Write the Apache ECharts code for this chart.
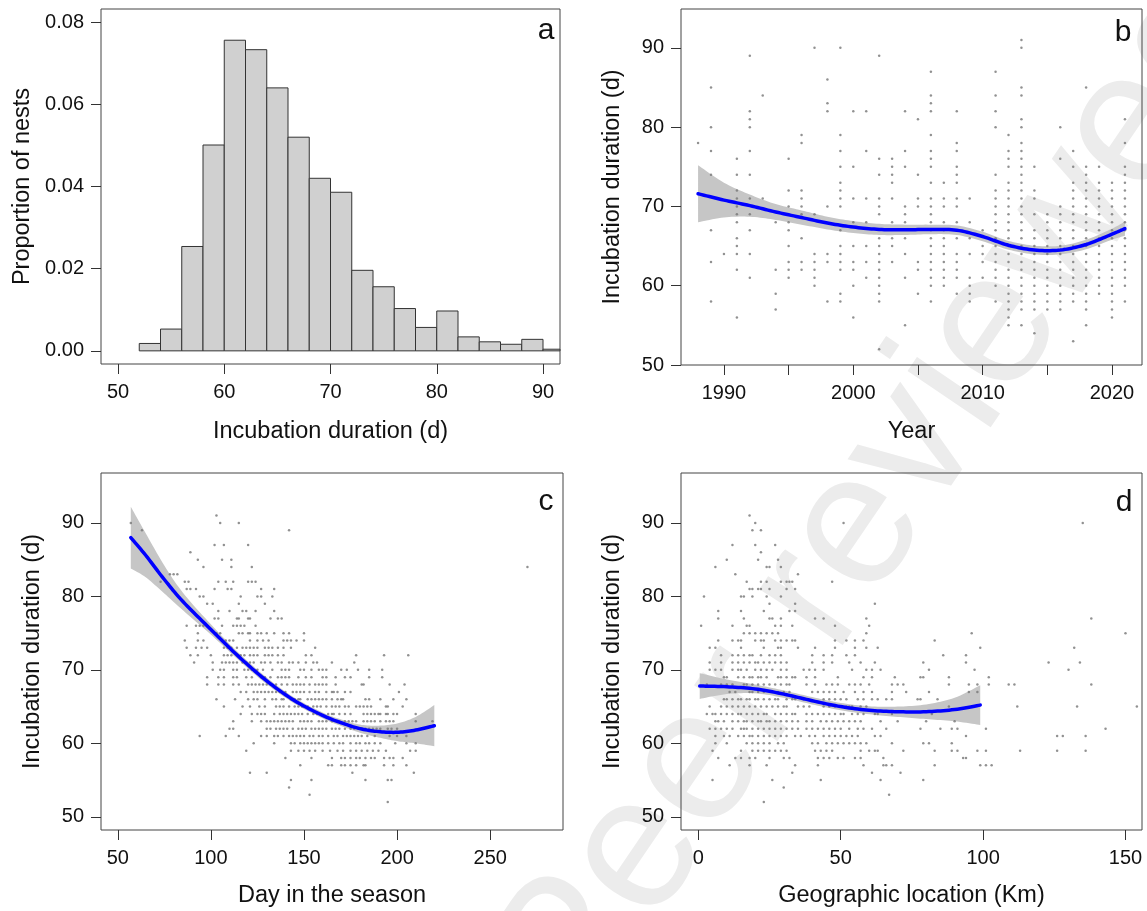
<!DOCTYPE html>
<html><head><meta charset="utf-8">
<script src="https://cdn.jsdelivr.net/npm/echarts@6/dist/echarts.min.js"></script>
<style>html,body{margin:0;padding:0;background:#fff}#c{width:1147px;height:911px}</style>
</head><body><div id="c"></div><script>
// ---------- Panel a: histogram ----------
const histBreaks = [52,54,56,58,60,62,64,66,68,70,72,74,76,78,80,82,84,86,88,90,92];
const histDensity = [0.0018,0.0053,0.0254,0.0501,0.0756,0.0733,0.0640,0.0520,0.0420,0.0386,0.0196,0.0156,0.0103,0.0057,0.0097,0.0034,0.0022,0.0016,0.0028,0.0004];
const aXTicks = [50,60,70,80,90];
const aYTicks = [0,0.02,0.04,0.06,0.08];

// ---------- Panel b: year ----------
const bYears = [1988,1989,1990,1991,1992,1993,1994,1995,1996,1997,1998,1999,2000,2001,2002,2003,2004,2005,2006,2007,2008,2009,2010,2011,2012,2013,2014,2015,2016,2017,2018,2019,2020,2021];
const bDurations = [
 [78],
 [85,80,77,74,67,63,58],
 [64],
 [76,74,72,71,70,69,68,66,65,64,62,56],
 [89,82,81,80,77,74,71,69,67,64,61],
 [84,71],
 [68,62,59,57],
 [76,72,70,68,67,65,63,62,61],
 [79,78,72,71,70,69,66,63,62],
 [90,69,64,63,62,61,60],
 [86,83,82,70,64,63,58],
 [90,79,77,75,73,72,71,70,67,65,64,63,62,59,58],
 [82,75,71,68,65,63,62,60,56],
 [82,77,71,68,65,63,61],
 [89,76,74,71,70,69,66,65,64,63,62,61,60,59,58,52],
 [76,75,74,73,71,68,66,65,63],
 [82,77,75,70,69,68,66,64,61,55],
 [81,74,71,70,63,62,59],
 [87,84,83,82,79,77,76,75,73,71,70,69,68,67,66,65,64,63,62,61,60,58],
 [73,71,70,68,67,66,65,64,63,62,61,60],
 [82,78,77,75,74,73,71,70,68,67,66,64,63,62,61,59],
 [71,68,66,64,61,60,59,58],
 [67,65,64,63,61],
 [87,84,82,80,74,72,71,70,69,68,67,66,65,64,63,62,61,60,58],
 [79,77,76,75,73,72,71,70,69,68,67,66,65,64,63,62,61,60,59,58,57,56,55],
 [91,90,85,84,81,80,78,77,76,75,74,73,72,71,70,69,68,67,66,65,64,63,62,61,60,59,58,57,55],
 [75,72,71,69,67,66,65,64,63,62,61,60,59,58,57,54],
 [69,68,67,66,65,64,63,62,61,60,59,58,57],
 [80,76,70,69,68,67,66,65,64,63,62,61,60,59,58,57],
 [77,75,73,72,71,70,69,68,67,66,65,64,63,62,61,60,59,58,53],
 [85,75,74,73,72,71,70,69,68,67,66,65,64,63,62,61,60,59,58,57,55],
 [75,73,72,71,70,69,68,67,66,65,64,63,62,61,60,59],
 [73,72,71,70,69,68,67,66,65,64,63,62,61,60,59,58,57,56],
 [81,78,75,74,73,72,71,70,69,68,67,66,65,64,63,62,61,60,58]
];
const bFitX = [1988,1990,1992,1994,1996,1998,2000,2002,2004,2006,2008,2010,2012,2014,2016,2018,2020,2021];
const bFitY = [71.6,70.8,70.1,69.3,68.6,67.9,67.4,67.1,67.05,67.1,67.0,66.2,65.1,64.5,64.5,65.2,66.5,67.2];
const bFitSe = [3.6,2.2,1.4,1.0,0.9,0.8,0.75,0.7,0.65,0.6,0.6,0.6,0.55,0.55,0.55,0.6,0.7,0.9];
const bXTicks = [1990,1995,2000,2005,2010,2015,2020];
const bXLabels = [1990,2000,2010,2020];
const durTicks = [50,60,70,80,90];

// ---------- Panel c: day in season ----------
const cRowDur = [91,90,89,87,86,85,84,83,82,81,80,79,78,77,76,75,74,73,72,71,70,69,68,67,66,65,64,63,62,61,60,59,58,57,56,55,54,53,52];
const cRowDays = [
 [103],
 [57,105,115],
 [63,142],
 [102,107,120],
 [89],
 [93,106,111],
 [96,111,122,270],
 [78,80,82],
 [73,86,88,104,108,112,120,122,124],
 [87,89,92,102,109,111,127,134],
 [94,96,116,125,127,133],
 [98,101,115,129],
 [104,110,117,119,124,134],
 [102,104,114,115,120,121,132,136,138],
 [87,92,94,96,106,112,114,116,118,124],
 [93,103,105,115,117,120,121,125,127,130,134,139,142,150],
 [86,93,96,108,110,112,121,125,128,131,139,141,143,146,150],
 [87,92,95,98,107,109,111,114,117,119,121,123,125,129,131,133,136,139,143,156],
 [89,93,100,107,109,111,114,116,118,121,123,125,129,131,133,136,139,151,154,178,193,206],
 [91,101,106,108,110,112,114,117,119,121,123,127,129,132,136,138,142,144,147,151,155,157,165,177],
 [101,105,107,112,114,118,120,122,125,128,133,138,140,142,148,150,154,158,160,162,170,173,179,185,192],
 [98,104,107,112,114,119,122,127,129,132,136,138,140,142,147,151,154,160,162,167,172,175,185,192],
 [98,104,107,112,115,120,122,124,126,128,130,132,135,138,141,144,146,148,150,153,156,158,160,162,167,181,182,196,204],
 [116,119,123,125,127,129,131,133,135,137,140,144,146,148,150,153,156,158,162,165,166,168,172,175,201],
 [103,113,120,123,125,129,133,135,138,139,143,145,147,148,152,154,156,158,160,162,165,168,170,171,183,185,191,198,205],
 [107,117,121,126,129,135,137,139,142,145,147,149,152,155,157,159,162,165,167,169,172,174,178,180,182,184,186,194,195,203],
 [116,122,125,127,129,134,137,139,141,143,145,147,149,152,155,157,159,163,165,166,169,172,175,182,184,186,188,190,191,194,195,198,200,210],
 [112,122,127,130,132,134,136,138,140,142,144,148,150,152,154,158,160,162,165,167,169,172,174,176,178,182,184,186,188,191,194,196,198,210,219],
 [110,112,130,132,135,137,139,141,144,147,149,151,154,156,158,160,162,165,167,169,172,175,177,179,181,183,185,187,189,191,195,197,200],
 [94,108,115,127,130,134,136,139,142,144,146,148,150,153,155,158,160,163,166,168,171,173,175,177,179,181,184,188,196,200,205],
 [123,134,143,145,148,150,152,154,156,158,160,163,166,169,171,175,178,180,183,185,188,191,199,205,210],
 [119,143,147,150,153,156,160,164,168,171,175,178,181,184,187,190,194,207,210],
 [140,154,165,170,172,175,178,180,183,186,188,193,196,198,203],
 [148,163,165,170,172,175,178,182,183,193,198,205],
 [121,130,176,209],
 [143,154,183,195,197],
 [142],
 [153],
 [195]
];
const cFitX = [57,65,75,85,100,115,130,145,160,170,180,190,200,210,220];
const cFitY = [88.0,85.6,82.3,79.3,75.5,71.8,68.5,65.8,63.8,62.8,62.0,61.6,61.5,61.8,62.4];
const cFitSe = [4.2,3.0,1.9,1.2,0.7,0.5,0.45,0.4,0.4,0.45,0.55,0.8,1.2,1.8,2.8];
const cXTicks = [50,100,150,200,250];

// ---------- Panel d: geographic location ----------
const dRowDur = [91,90,89,87,86,85,84,83,82,81,80,79,78,77,76,75,74,73,72,71,70,69,68,67,66,65,64,63,62,61,60,59,58,57,56,55,54,53,52];
const dRowKm = [
 [18],
 [20,51,135],
 [19,22],
 [12,20,27],
 [22],
 [10,21,28],
 [6,24,25,29],
 [13,35],
 [17,22,24,29,31,32,33,47],
 [18,19,21,22,25,31,34],
 [2,15,16,19,24,29],
 [25,34,62],
 [7,15,23,32,34],
 [7,16,25,26,29,41,44,59,138],
 [1,12,17,18,27,29,33,48,60],
 [16,18,20,22,24,26,28,59,96,150],
 [7,12,14,15,20,22,23,27,29,31,33,34,48,52,55,58,83],
 [4,6,15,23,28,29,35,41,48,55,59,63,99,132],
 [8,12,14,16,18,19,22,25,27,29,40,44,47,52,55,86,94],
 [4,8,12,14,16,18,20,21,23,25,27,29,31,40,44,47,53,57,62,79,94,123,134],
 [4,6,8,12,14,15,17,20,22,24,26,29,31,37,39,41,44,54,59,61,64,81,97,130],
 [9,10,14,16,18,19,21,22,24,28,29,31,33,34,38,41,49,58,61,69,78,79,88,102],
 [3,8,10,12,16,17,19,21,23,25,27,29,31,32,38,41,45,47,49,53,55,57,60,68,70,72,88,95,98,102,109,111,138],
 [11,13,18,19,21,23,26,28,30,32,40,42,44,46,48,51,55,58,61,68,73,81,95,98],
 [9,10,12,14,15,17,18,20,21,23,25,27,28,31,33,34,37,44,46,48,50,52,56,58,61,63,66,68,77,78,84],
 [4,8,10,12,14,16,18,20,22,24,26,28,30,31,35,37,39,44,46,48,50,52,53,54,57,59,88,112,133,154],
 [3,5,6,8,10,12,14,15,17,19,21,23,24,27,29,31,33,34,38,40,42,44,46,48,50,51,54,56,58,62,63,68,82],
 [6,7,9,12,14,16,17,19,21,22,24,25,27,29,31,33,35,38,40,43,45,47,49,51,53,55,57,64,70,80,90],
 [4,6,8,10,12,15,16,17,19,21,23,25,27,29,31,33,35,38,40,42,44,46,48,50,53,56,58,61,66,78,85,89,91,101,143],
 [6,9,11,14,16,18,19,21,23,25,27,29,31,34,36,39,41,44,46,48,50,52,54,56,62,64,94,126,128,136],
 [6,10,17,19,21,23,25,28,30,40,42,45,47,49,51,53,55,57,59,68,79,81,89],
 [5,15,19,21,23,25,27,29,31,41,43,45,47,57,60,62,63,72,83,89,91,98,101,113,126,136],
 [7,13,15,18,20,25,30,32,42,44,46,49,51,55,57,65,93,94],
 [11,18,24,34,42,58,65,66,68,83,99,101,103],
 [33,61,71],
 [5,26,43,64,79],
 [30],
 [67],
 [23]
];
const dFitX = [0.5,10,20,30,40,50,60,70,80,90,99];
const dFitY = [67.8,67.7,67.4,66.7,65.8,65.0,64.5,64.3,64.3,64.6,65.2];
const dFitSe = [1.75,1.0,0.6,0.5,0.5,0.5,0.55,0.7,1.0,1.6,2.7];
const dXTicks = [0,50,100,150];

// ---------- build ----------
const FONT = '"Liberation Sans", Arial, Helvetica, sans-serif';
const TICK_FS = 20, TITLE_FS = 23.5;
const bPts = []; bYears.forEach((y,i)=>bDurations[i].forEach(d=>bPts.push([y,d])));
const cPts = []; cRowDur.forEach((v,i)=>cRowDays[i].forEach(x=>cPts.push([x,v])));
const dPts = []; dRowDur.forEach((v,i)=>dRowKm[i].forEach(x=>dPts.push([x,v])));
const histData = histDensity.map((h,i)=>[histBreaks[i],histBreaks[i+1],h]);

// Catmull-Rom smoothing of pixel points produced by api.coord
function spline(P,n){
  n = n||10; const out=[];
  for(let i=0;i<P.length-1;i++){
    const p0=P[Math.max(i-1,0)], p1=P[i], p2=P[i+1], p3=P[Math.min(i+2,P.length-1)];
    for(let t=0;t<n;t++){
      const s=t/n, s2=s*s, s3=s2*s;
      const f=(a,b,c,d)=>0.5*((2*b)+(-a+c)*s+(2*a-5*b+4*c-d)*s2+(-a+3*b-3*c+d)*s3);
      out.push([f(p0[0],p1[0],p2[0],p3[0]), f(p0[1],p1[1],p2[1],p3[1])]);
    }
  }
  out.push(P[P.length-1].slice());
  return out;
}

function xAx(gi,min,max,ticks,labels,name,gap,fmt){
  return {type:'value',gridIndex:gi,min:min,max:max,
    axisLine:{show:false,onZero:false},
    axisTick:{show:true,length:10,inside:false,customValues:ticks,lineStyle:{color:'#333',width:1}},
    axisLabel:{customValues:labels,margin:18,fontSize:TICK_FS,color:'#111',fontFamily:FONT,formatter:fmt||(v=>String(v))},
    splitLine:{show:false},
    name:name,nameLocation:'middle',nameGap:gap,
    nameTextStyle:{fontSize:TITLE_FS,color:'#111',fontFamily:FONT}};
}
function yAx(gi,min,max,ticks,name,gap,fmt){
  return {type:'value',gridIndex:gi,min:min,max:max,
    axisLine:{show:false,onZero:false},
    axisTick:{show:true,length:10,inside:false,customValues:ticks,lineStyle:{color:'#333',width:1}},
    axisLabel:{customValues:ticks,margin:17,fontSize:TICK_FS,color:'#111',fontFamily:FONT,formatter:fmt||(v=>String(v))},
    splitLine:{show:false},
    name:name,nameLocation:'middle',nameGap:gap,nameRotate:90,
    nameTextStyle:{fontSize:TITLE_FS,color:'#111',fontFamily:FONT}};
}
function smoothFit(i,xs,fit,se){
  return {type:'custom',xAxisIndex:i,yAxisIndex:i,data:[[xs[0],fit[0]]],silent:true,z:1,
    renderItem:function(params,api){
      const up = spline(xs.map((x,k)=>api.coord([x,fit[k]+se[k]])));
      const lo = spline(xs.map((x,k)=>api.coord([x,fit[k]-se[k]]))).reverse();
      return {type:'polygon',shape:{points:up.concat(lo)},style:{fill:'#c6c6c6'}};
    }};
}
function fitLine(i,xs,fit){
  return {type:'custom',xAxisIndex:i,yAxisIndex:i,data:[[xs[0],fit[0]]],silent:true,z:4,
    renderItem:function(params,api){
      const pts = spline(xs.map((x,k)=>api.coord([x,fit[k]])));
      return {type:'polyline',shape:{points:pts},style:{stroke:'#0000ff',lineWidth:3.5,fill:null,lineCap:'round',lineJoin:'round'}};
    }};
}
function pts(i,data){
  return {type:'scatter',xAxisIndex:i,yAxisIndex:i,data:data,symbolSize:2.5,itemStyle:{color:'#767676'},silent:true,z:3};
}
const gridStyle = {show:true,borderColor:'#444',borderWidth:1,backgroundColor:'transparent'};

const option = {
  animation:false,
  backgroundColor:'#fff',
  textStyle:{fontFamily:FONT},
  grid:[
    Object.assign({left:101,top:9,width:459,height:355},gridStyle),
    Object.assign({left:681,top:9,width:461,height:356},gridStyle),
    Object.assign({left:101,top:473,width:462,height:357},gridStyle),
    Object.assign({left:681,top:473,width:461,height:357},gridStyle)
  ],
  xAxis:[
    xAx(0,48.4,91.6,aXTicks,aXTicks,'Incubation duration (d)',56),
    xAx(1,1986.68,2022.32,bXTicks,bXLabels,'Year',55),
    xAx(2,41,289.1,cXTicks,cXTicks,'Day in the season',54),
    xAx(3,-6.07,155.8,dXTicks,dXTicks,'Geographic location (Km)',54)
  ],
  yAxis:[
    yAx(0,-0.0032,0.0832,aYTicks,'Proportion of nests',66,v=>v.toFixed(2)),
    yAx(1,50,94.9,durTicks,'Incubation duration (d)',56),
    yAx(2,48.2,96.8,durTicks,'Incubation duration (d)',56),
    yAx(3,48.2,96.8,durTicks,'Incubation duration (d)',56)
  ],
  graphic:[
    {type:'text',x:878,y:500,rotation:0.974,z:-10,silent:true,
     style:{text:'Peer reviewed',fontSize:190,fontFamily:FONT,fill:'#ececec',align:'center',verticalAlign:'middle'}},
    {type:'text',x:546,y:31,z:10,style:{text:'a',fontSize:30,fontFamily:FONT,fill:'#111',align:'center',verticalAlign:'middle'}},
    {type:'text',x:1123,y:33,z:10,style:{text:'b',fontSize:30,fontFamily:FONT,fill:'#111',align:'center',verticalAlign:'middle'}},
    {type:'text',x:546,y:502,z:10,style:{text:'c',fontSize:30,fontFamily:FONT,fill:'#111',align:'center',verticalAlign:'middle'}},
    {type:'text',x:1124,y:503,z:10,style:{text:'d',fontSize:30,fontFamily:FONT,fill:'#111',align:'center',verticalAlign:'middle'}}
  ],
  series:[
    {type:'custom',xAxisIndex:0,yAxisIndex:0,data:histData,silent:true,z:2,
     renderItem:function(params,api){
       const p0 = api.coord([api.value(0),api.value(2)]);
       const p1 = api.coord([api.value(1),0]);
       const cs = params.coordSys;
       const r = echarts.graphic.clipRectByRect({x:p0[0],y:p0[1],width:p1[0]-p0[0],height:p1[1]-p0[1]},{x:cs.x,y:cs.y,width:cs.width,height:cs.height});
       if(!r) return null;
       return {type:'rect',shape:r,style:{fill:'#d0d0d0',stroke:'#333',lineWidth:1}};
     }},
    smoothFit(1,bFitX,bFitY,bFitSe), pts(1,bPts), fitLine(1,bFitX,bFitY),
    smoothFit(2,cFitX,cFitY,cFitSe), pts(2,cPts), fitLine(2,cFitX,cFitY),
    smoothFit(3,dFitX,dFitY,dFitSe), pts(3,dPts), fitLine(3,dFitX,dFitY)
  ]
};
const chart = echarts.init(document.getElementById('c'),null,{renderer:'canvas'});
chart.setOption(option);
</script></body></html>
